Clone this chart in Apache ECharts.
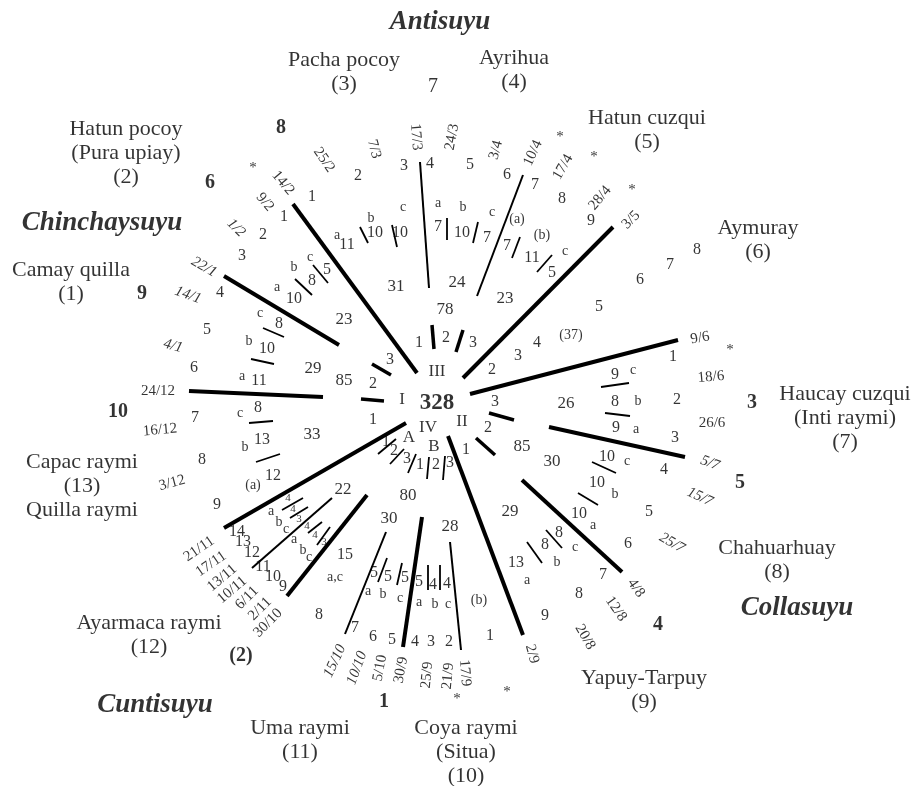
<!DOCTYPE html>
<html lang="en">
  <head>
    <meta charset="UTF-8" />
    <title>Ceque calendar</title>
    <style>
      html, body { margin: 0; padding: 0; background: #fff; }
      #main { width: 919px; height: 786px; }
    </style>
  </head>
  <body>
    <div id="main"></div>
    <script src="https://cdn.jsdelivr.net/npm/echarts@6/dist/echarts.min.js"></script>
    <script>
      var FONT = "'Liberation Serif', 'DejaVu Serif', serif";

      // main ceque lines, [x1, y1, x2, y2] in chart units
      var spokes = [
        [293, 204, 417, 373], [613, 227, 463, 378], [678, 340, 470, 394],
        [685, 457, 549, 427], [622, 572, 522, 480], [523, 635, 448, 436],
        [403, 647, 422, 517], [287, 596, 367, 495], [224, 528, 406, 423],
        [189, 391, 323, 397], [224, 276, 339, 345]
      ];
      var thinSpokes = [
        [420, 162, 429, 288], [523, 175, 477, 296], [252, 568, 332, 498],
        [345, 634, 386, 532], [450, 542, 461, 650]
      ];
      var innerDividers = [
        [372, 364, 391, 375], [361, 399, 384, 401], [432, 325, 434, 349],
        [463, 330, 456, 352], [489, 413, 514, 420], [476, 438, 495, 455]
      ];
      var dividers = [
        [360, 227, 368, 243], [392, 225, 397, 247], [447, 218, 447, 240],
        [478, 222, 473, 243], [520, 237, 512, 258], [552, 255, 537, 272],
        [313, 265, 328, 283], [295, 279, 312, 295], [263, 328, 284, 337],
        [251, 359, 274, 364], [249, 423, 273, 421], [256, 462, 280, 454],
        [601, 387, 629, 383], [605, 413, 630, 416], [592, 462, 616, 473],
        [578, 493, 598, 505], [527, 542, 542, 563], [546, 530, 562, 548],
        [378, 454, 396, 439], [390, 464, 404, 449], [408, 473, 416, 454],
        [427, 479, 429, 457], [443, 480, 445, 456], [378, 582, 387, 558],
        [397, 585, 402, 563], [428, 565, 428, 590], [440, 565, 440, 590],
        [282, 510, 303, 498], [290, 518, 308, 507], [308, 533, 322, 522],
        [317, 545, 330, 527]
      ];

      var regions = [
        ["Antisuyu", 440, 22], ["Chinchaysuyu", 102, 223],
        ["Collasuyu", 797, 608], ["Cuntisuyu", 155, 705]
      ];
      var months = [
        ["Pacha pocoy\n(3)", 344, 72], ["Ayrihua\n(4)", 514, 70],
        ["Hatun cuzqui\n(5)", 647, 130], ["Aymuray\n(6)", 758, 240],
        ["Haucay cuzqui\n(Inti raymi)\n(7)", 845, 418], ["Chahuarhuay\n(8)", 777, 560],
        ["Yapuy-Tarpuy\n(9)", 644, 690], ["Coya raymi\n(Situa)\n(10)", 466, 752],
        ["Uma raymi\n(11)", 300, 740], ["Ayarmaca raymi\n(12)", 149, 635],
        ["Capac raymi\n(13)\nQuilla raymi", 82, 486], ["Camay quilla\n(1)", 71, 282],
        ["Hatun pocoy\n(Pura upiay)\n(2)", 126, 153]
      ];
      var boldNums = [
        ["8", 281, 128], ["6", 210, 183], ["9", 142, 294], ["10", 118, 412],
        ["(2)", 241, 656], ["1", 384, 702], ["4", 658, 625], ["5", 740, 483],
        ["3", 752, 403]
      ];
      var plainBig = [["7", 433, 87]];
      var center = [["328", 437, 403]];
      var romans = [
        ["I", 402, 400], ["II", 462, 422], ["III", 437, 372], ["IV", 428, 428],
        ["A", 409, 438], ["B", 434, 447]
      ];
      var totals = [
        ["31", 396, 287], ["24", 457, 283], ["78", 445, 310], ["23", 505, 299],
        ["23", 344, 320], ["29", 313, 369], ["85", 344, 381], ["33", 312, 435],
        ["26", 566, 404], ["85", 522, 447], ["30", 552, 462], ["29", 510, 512],
        ["80", 408, 496], ["22", 343, 490], ["30", 389, 519], ["28", 450, 527]
      ];
      var days = [
        ["1", 312, 197], ["2", 358, 176], ["3", 404, 166], ["4", 430, 164], ["5", 470, 165],
        ["6", 507, 175], ["7", 535, 185], ["8", 562, 199], ["9", 591, 221],
        ["1", 284, 217], ["2", 263, 235], ["3", 242, 256], ["4", 220, 293], ["5", 207, 330],
        ["6", 194, 368], ["7", 195, 418], ["8", 202, 460], ["9", 217, 505],
        ["2", 492, 370], ["3", 518, 356], ["4", 537, 343], ["5", 599, 307], ["6", 640, 280],
        ["7", 670, 265], ["8", 697, 250],
        ["1", 673, 357], ["2", 677, 400], ["3", 675, 438], ["4", 664, 470], ["5", 649, 512],
        ["6", 628, 544], ["7", 603, 575], ["8", 579, 594], ["9", 545, 616],
        ["1", 490, 636], ["2", 449, 642], ["3", 431, 642], ["4", 415, 642], ["5", 392, 640],
        ["6", 373, 637], ["7", 355, 628], ["8", 319, 615],
        ["9", 283, 587], ["10", 273, 577], ["11", 263, 567], ["12", 252, 553],
        ["13", 243, 542], ["14", 237, 532], ["15", 345, 555],
        ["1", 419, 343], ["2", 446, 338], ["3", 473, 343], ["1", 373, 420], ["2", 373, 384],
        ["3", 390, 360], ["3", 495, 402], ["2", 488, 428], ["1", 466, 450],
        ["1", 386, 442], ["2", 394, 451], ["3", 407, 459],
        ["1", 420, 465], ["2", 436, 465], ["3", 450, 463]
      ];
      var subCounts = [
        ["11", 347, 245], ["10", 375, 233], ["10", 400, 233], ["7", 438, 227], ["10", 462, 233],
        ["7", 487, 238], ["7", 507, 246], ["11", 532, 258], ["5", 552, 273],
        ["5", 327, 270], ["8", 312, 281], ["10", 294, 299],
        ["8", 279, 324], ["10", 267, 349], ["11", 259, 381],
        ["8", 258, 408], ["13", 262, 440], ["12", 273, 476],
        ["9", 615, 375], ["8", 615, 402], ["9", 616, 428],
        ["10", 607, 457], ["10", 597, 483], ["10", 579, 514],
        ["13", 516, 563], ["8", 545, 545], ["8", 559, 533],
        ["5", 374, 573], ["5", 388, 577], ["5", 405, 578], ["5", 419, 582],
        ["4", 433, 585], ["4", 447, 584]
      ];
      var tinyCounts = [
        ["4", 288, 498], ["4", 293, 509], ["3", 299, 519],
        ["4", 307, 526], ["4", 315, 535], ["3", 324, 542]
      ];
      var letters = [
        ["c", 403, 207], ["b", 371, 218], ["a", 337, 235], ["a", 438, 203], ["b", 463, 207],
        ["c", 492, 212], ["c", 565, 251], ["c", 310, 257], ["b", 294, 267], ["a", 277, 287],
        ["c", 260, 313], ["b", 249, 341], ["a", 242, 376], ["c", 240, 413], ["b", 245, 447],
        ["c", 633, 370], ["b", 638, 401], ["a", 636, 429], ["c", 627, 461], ["b", 615, 494],
        ["a", 593, 525], ["c", 575, 547], ["b", 557, 562], ["a", 527, 580],
        ["a", 368, 591], ["b", 383, 594], ["c", 400, 598], ["a", 419, 602], ["b", 435, 604],
        ["c", 448, 604],
        ["a", 271, 511], ["b", 279, 522], ["c", 286, 529], ["a", 294, 539], ["b", 303, 550],
        ["c", 309, 557],
        ["(a)", 517, 219], ["(b)", 542, 235], ["(a)", 253, 485], ["(b)", 479, 600],
        ["(37)", 571, 335], ["a,c", 335, 577]
      ];
      var stars = [
        ["*", 253, 168], ["*", 560, 137], ["*", 594, 157], ["*", 632, 190],
        ["*", 730, 350], ["*", 457, 699], ["*", 507, 692]
      ];
      // dates: [text, x, y, angle]
      var dates = [
        ["14/2", 283, 183, -50], ["9/2", 265, 202, -50], ["25/2", 324, 160, -55],
        ["7/3", 374, 149, -75], ["17/3", 416, 137, -85], ["24/3", 452, 137, 80],
        ["3/4", 496, 150, 75], ["10/4", 533, 153, 65], ["17/4", 563, 167, 60],
        ["28/4", 600, 198, 50], ["3/5", 631, 220, 45], ["9/6", 700, 338, 10],
        ["18/6", 711, 377, 5], ["26/6", 712, 423, 0],
        ["4/8", 636, 588, -55],
        ["12/8", 616, 609, -55], ["20/8", 585, 637, -60], ["2/9", 532, 654, -75],
        ["17/9", 465, 673, -85], ["21/9", 448, 676, 85], ["25/9", 427, 675, 85],
        ["30/9", 401, 670, 80], ["5/10", 380, 668, 80],
        ["30/10", 268, 623, 45], ["2/11", 260, 609, 45],
        ["6/11", 247, 598, 45], ["10/11", 232, 590, 40], ["13/11", 222, 578, 40],
        ["17/11", 211, 564, 35], ["21/11", 199, 549, 35], ["3/12", 172, 483, 15],
        ["16/12", 160, 430, 5], ["24/12", 158, 391, 0]
      ];
      var italicDates = [
        ["5/7", 710, 463, -20], ["15/7", 700, 497, -25], ["25/7", 672, 543, -30],
        ["10/10", 357, 668, 70], ["15/10", 335, 661, 65],
        ["4/1", 173, 346, -15], ["14/1", 188, 295, -20], ["22/1", 204, 267, -30],
        ["1/2", 236, 228, -45]
      ];

      function lineSeries(rows, width) {
        return {
          type: "lines",
          coordinateSystem: "cartesian2d",
          silent: true,
          lineStyle: { color: "#000", width: width, opacity: 1 },
          data: rows.map(function (r) {
            return { coords: [[r[0], r[1]], [r[2], r[3]]] };
          }),
        };
      }

      function textSeries(rows, style) {
        return {
          type: "scatter",
          symbolSize: 0,
          silent: true,
          label: Object.assign(
            {
              show: true,
              position: "inside",
              formatter: "{b}",
              color: "#000",
              fontFamily: FONT,
              align: "center",
              verticalAlign: "middle",
            },
            style
          ),
          data: rows.map(function (r) {
            var item = { name: r[0], value: [r[1], r[2]] };
            if (r.length > 3) item.label = { rotate: r[3] };
            return item;
          }),
        };
      }

      var myChart = echarts.init(document.getElementById("main"));
      myChart.setOption({
        animation: false,
        backgroundColor: "#fff",
        grid: { left: 0, right: 0, top: 0, bottom: 0 },
        xAxis: { type: "value", min: 0, max: 919, show: false },
        yAxis: { type: "value", min: 0, max: 786, inverse: true, show: false },
        series: [
          lineSeries(spokes, 4),
          lineSeries(thinSpokes, 2),
          lineSeries(innerDividers, 3.5),
          lineSeries(dividers, 1.8),
          textSeries(regions, { fontSize: 27, fontWeight: "bold", fontStyle: "italic" }),
          textSeries(months, { fontSize: 22, lineHeight: 24 }),
          textSeries(boldNums, { fontSize: 20, fontWeight: "bold" }),
          textSeries(plainBig, { fontSize: 20 }),
          textSeries(center, { fontSize: 23, fontWeight: "bold" }),
          textSeries(romans, { fontSize: 17 }),
          textSeries(totals, { fontSize: 17 }),
          textSeries(days, { fontSize: 16 }),
          textSeries(subCounts, { fontSize: 16 }),
          textSeries(tinyCounts, { fontSize: 11 }),
          textSeries(letters, { fontSize: 14 }),
          textSeries(stars, { fontSize: 15 }),
          textSeries(dates, { fontSize: 15 }),
          textSeries(italicDates, { fontSize: 15, fontStyle: "italic" }),
        ],
      });
    </script>
  </body>
</html>
